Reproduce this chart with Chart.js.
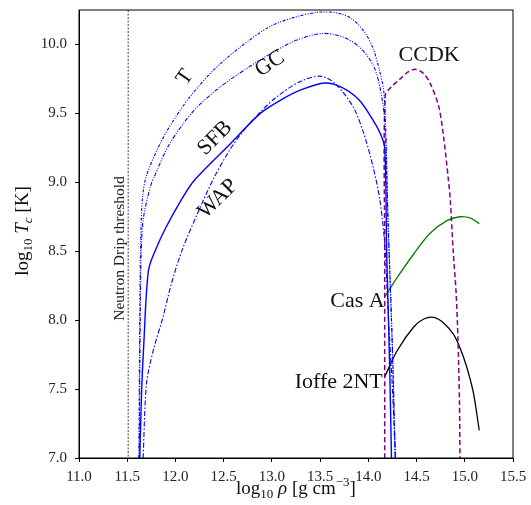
<!DOCTYPE html>
<html>
<head>
<meta charset="utf-8">
<script src="https://cdn.jsdelivr.net/npm/chart.js@4.4.0/dist/chart.umd.min.js"></script>
<style>
  body { margin: 0; background: #fff; }
  canvas { display: block; }
</style>
</head>
<body>
<canvas id="gap-plot" width="531" height="505"></canvas>
<script>
// log10 rho [g cm^-3] vs log10 Tc [K]
var xTicks = [11.0, 11.5, 12.0, 12.5, 13.0, 13.5, 14.0, 14.5, 15.0, 15.5];
var yTicks = [7.0, 7.5, 8.0, 8.5, 9.0, 9.5, 10.0];
var dripRho = 11.51;

var tRho = [11.62, 11.63, 11.64, 11.66, 11.70, 11.84, 11.98, 12.15, 12.39, 12.67, 12.98, 13.25, 13.50, 13.70, 13.84, 13.96, 14.05, 14.12, 14.16, 14.18, 14.21, 14.25, 14.28];
var tTc  = [7.0, 8.0, 8.6, 8.9, 9.05, 9.28, 9.45, 9.62, 9.81, 9.98, 10.13, 10.20, 10.235, 10.225, 10.18, 10.09, 9.97, 9.80, 9.66, 9.40, 8.60, 7.80, 7.0];

var gcRho = [11.625, 11.635, 11.645, 11.67, 11.74, 11.78, 11.94, 12.19, 12.46, 12.77, 12.98, 13.25, 13.53, 13.75, 13.91, 14.05, 14.12, 14.17, 14.20, 14.24, 14.28];
var gcTc  = [7.0, 8.0, 8.5, 8.75, 8.97, 9.04, 9.28, 9.52, 9.69, 9.84, 9.93, 10.03, 10.08, 10.05, 9.98, 9.85, 9.69, 9.45, 8.80, 8.00, 7.0];

var sfbRho = [11.63, 11.65, 11.67, 11.72, 11.80, 11.90, 12.05, 12.19, 12.57, 12.88, 13.10, 13.30, 13.55, 13.72, 13.90, 14.05, 14.12, 14.17, 14.19, 14.22, 14.24];
var sfbTc  = [7.0, 7.5, 7.8, 8.36, 8.52, 8.67, 8.86, 9.01, 9.28, 9.50, 9.60, 9.67, 9.72, 9.69, 9.60, 9.45, 9.36, 9.25, 8.50, 7.70, 7.0];

var wapRho = [11.665, 11.70, 11.77, 11.87, 11.96, 12.07, 12.22, 12.39, 12.55, 12.70, 12.88, 13.05, 13.29, 13.50, 13.65, 13.84, 13.95, 14.05, 14.12, 14.17, 14.21, 14.25, 14.28];
var wapTc  = [7.0, 7.54, 7.78, 8.02, 8.27, 8.51, 8.76, 9.02, 9.22, 9.37, 9.51, 9.62, 9.73, 9.77, 9.72, 9.55, 9.36, 9.11, 8.87, 8.55, 8.00, 7.50, 7.0];

var ccdkRho = [14.17, 14.17, 14.175, 14.25, 14.33, 14.41, 14.49, 14.57, 14.64, 14.73, 14.78, 14.83, 14.85, 14.88, 14.91, 14.93, 14.945, 14.95];
var ccdkTc  = [7.0, 8.5, 9.63, 9.70, 9.75, 9.80, 9.82, 9.79, 9.72, 9.55, 9.33, 9.02, 8.87, 8.50, 8.20, 7.85, 7.40, 7.0];

var casRho = [14.17, 14.30, 14.47, 14.64, 14.81, 14.95, 15.06, 15.15];
var casTc  = [8.17, 8.31, 8.48, 8.63, 8.72, 8.75, 8.74, 8.70];

var ioffeRho = [14.17, 14.30, 14.47, 14.58, 14.68, 14.78, 14.88, 14.95, 15.02, 15.09, 15.15];
var ioffeTc  = [7.59, 7.78, 7.95, 8.01, 8.02, 7.98, 7.90, 7.80, 7.66, 7.47, 7.20];

function pts(xs, ys) {
  return xs.map(function (x, i) { return { x: x, y: ys[i] }; });
}

var serif = "'Liberation Serif', 'DejaVu Serif', serif";

// text placed next to the curves (data coords)
var curveLabels = [
  { text: "T", x: 12.10, y: 9.76, rot: -55, align: "center" },
  { text: "GC", x: 12.98, y: 9.86, rot: -33, align: "center" },
  { text: "SFB", x: 12.41, y: 9.32, rot: -45, align: "center" },
  { text: "WAP", x: 12.44, y: 8.88, rot: -45, align: "center" },
  { text: "CCDK", x: 14.63, y: 9.92, rot: 0, align: "center" },
  { text: "Cas A", x: 14.17, y: 8.14, rot: 0, align: "right" },
  { text: "Ioffe 2NT", x: 14.15, y: 7.55, rot: 0, align: "right" }
];

function rich(ctx, parts, x, y, rot) {
  ctx.save();
  ctx.translate(x, y);
  ctx.rotate(rot);
  var total = 0;
  parts.forEach(function (p) {
    ctx.font = (p.it ? "italic " : "") + (p.size || 19) + "px " + serif;
    p.w = ctx.measureText(p.t).width;
    total += p.w;
  });
  var cx = -total / 2;
  ctx.fillStyle = "#111";
  ctx.textBaseline = "alphabetic";
  ctx.textAlign = "left";
  parts.forEach(function (p) {
    ctx.font = (p.it ? "italic " : "") + (p.size || 19) + "px " + serif;
    ctx.fillText(p.t, cx, p.dy || 0);
    cx += p.w;
  });
  ctx.restore();
}

var decorPlugin = {
  id: "decor",
  beforeDatasetsDraw: function (chart) {
    var ctx = chart.ctx, a = chart.chartArea;
    var xs = chart.scales.x, ys = chart.scales.y;
    var px = xs.getPixelForValue(dripRho);
    ctx.save();
    ctx.strokeStyle = "#444";
    ctx.lineWidth = 1;
    ctx.setLineDash([2, 1.5]);
    ctx.beginPath();
    ctx.moveTo(px, a.top);
    ctx.lineTo(px, a.bottom);
    ctx.stroke();
    ctx.setLineDash([]);
    ctx.translate(px - 1, ys.getPixelForValue(8.52));
    ctx.rotate(-Math.PI / 2);
    ctx.font = "15.5px " + serif;
    ctx.fillStyle = "#222";
    ctx.textAlign = "center";
    ctx.textBaseline = "bottom";
    ctx.fillText("Neutron Drip threshold", 0, 0);
    ctx.restore();
  },
  afterDraw: function (chart) {
    var ctx = chart.ctx, a = chart.chartArea;
    var xs = chart.scales.x, ys = chart.scales.y;
    ctx.save();
    ctx.strokeStyle = "#000";
    ctx.lineWidth = 1;
    ctx.strokeRect(a.left, a.top, a.right - a.left, a.bottom - a.top);

    ctx.fillStyle = "#111";
    ctx.font = "22px " + serif;
    ctx.textBaseline = "middle";
    curveLabels.forEach(function (l) {
      ctx.save();
      ctx.translate(xs.getPixelForValue(l.x), ys.getPixelForValue(l.y));
      ctx.rotate(l.rot * Math.PI / 180);
      ctx.textAlign = l.align;
      ctx.fillText(l.text, 0, 0);
      ctx.restore();
    });
    ctx.restore();

    rich(ctx, [
      { t: "log" }, { t: "10", size: 13, dy: 4 }, { t: " " }, { t: "ρ", it: true },
      { t: " [g cm" }, { t: "−3", size: 13, dy: -8 }, { t: "]" }
    ], 296, 494, 0);

    rich(ctx, [
      { t: "log" }, { t: "10", size: 13, dy: 4 }, { t: " " }, { t: "T", it: true },
      { t: "c", it: true, size: 13, dy: 4 }, { t: " [K]" }
    ], 28, 231, -Math.PI / 2);
  }
};

function line(data, color, dash, width) {
  return {
    data: data,
    borderColor: color,
    borderWidth: width,
    borderDash: dash,
    pointRadius: 0,
    tension: 0.3,
    fill: false
  };
}

new Chart("gap-plot", {
  type: "line",
  data: {
    datasets: [
      line(pts(tRho, tTc), "#0000ff", [3, 1.5, 1, 1.5, 1, 1.5], 1.1),
      line(pts(gcRho, gcTc), "#0000ff", [4, 1.5, 1, 1.5, 1, 1.5], 1.1),
      line(pts(sfbRho, sfbTc), "#0000ff", [], 1.4),
      line(pts(wapRho, wapTc), "#0000ff", [5, 2, 1.5, 2], 1.1),
      line(pts(ccdkRho, ccdkTc), "#800080", [5, 3], 1.5),
      line(pts(casRho, casTc), "#008000", [], 1.3),
      line(pts(ioffeRho, ioffeTc), "#000000", [], 1.3)
    ]
  },
  options: {
    responsive: false,
    animation: false,
    layout: { padding: { left: 0, right: 18, top: 10, bottom: 0 } },
    plugins: {
      legend: { display: false },
      tooltip: { enabled: false }
    },
    scales: {
      x: {
        type: "linear",
        min: 11.0,
        max: 15.5,
        afterFit: function (s) { s.height = 47; s.paddingLeft = 0; s.paddingRight = 0; },
        afterBuildTicks: function (s) { s.ticks = xTicks.map(function (v) { return { value: v }; }); },
        grid: { drawOnChartArea: false, drawTicks: true, tickLength: 4, color: "#000" },
        border: { color: "#000" },
        ticks: {
          padding: 6,
          color: "#222",
          font: { family: serif, size: 15 },
          maxRotation: 0,
          callback: function (v) { return v.toFixed(1); }
        }
      },
      y: {
        type: "linear",
        min: 7.0,
        max: 10.25,
        afterFit: function (s) { s.width = 79; s.paddingTop = 0; s.paddingBottom = 0; },
        afterBuildTicks: function (s) { s.ticks = yTicks.map(function (v) { return { value: v }; }); },
        grid: { drawOnChartArea: false, drawTicks: true, tickLength: 4, color: "#000" },
        border: { color: "#000" },
        ticks: {
          padding: 8,
          color: "#222",
          font: { family: serif, size: 15 },
          callback: function (v) { return v.toFixed(1); }
        }
      }
    }
  },
  plugins: [decorPlugin]
});
</script>
</body>
</html>
